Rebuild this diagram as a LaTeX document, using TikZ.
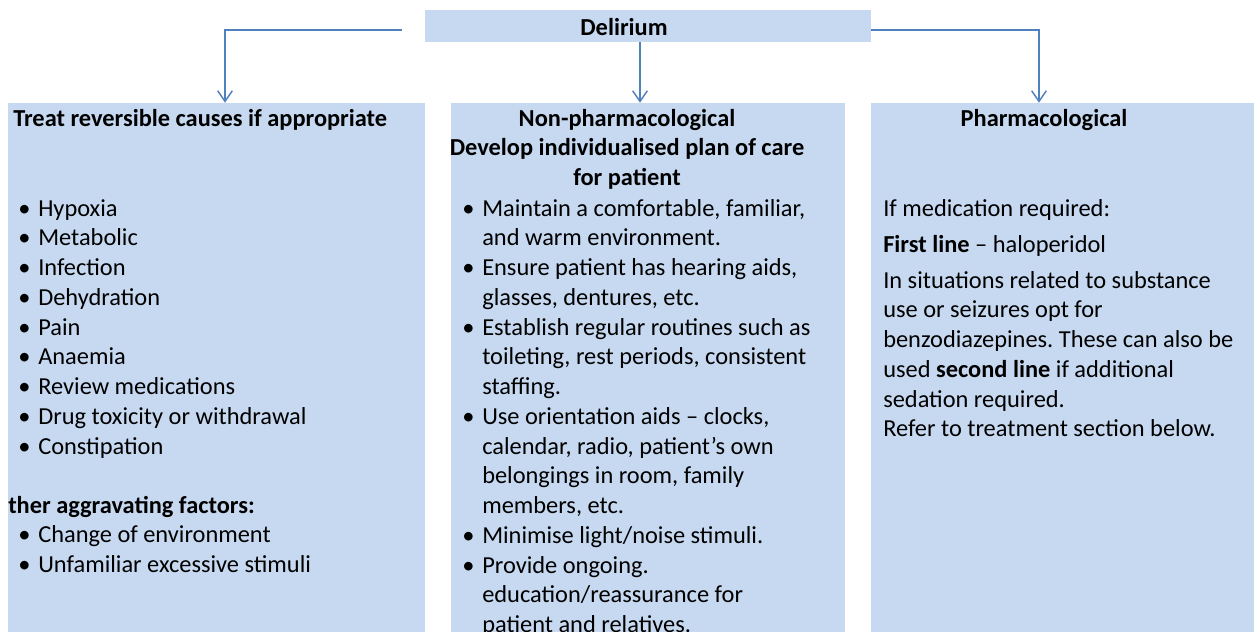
\documentclass[tikz,border=0pt]{standalone}
\usepackage{fontspec}
\setmainfont{Carlito}
\usepackage{xcolor}
\usetikzlibrary{positioning,arrows.meta,calc}
\definecolor{boxblue}{HTML}{C6D9F0}
\definecolor{linkblue}{HTML}{4F81BD}
\newlength{\bulsep}\setlength{\bulsep}{15pt}
\newcommand{\bul}{\makebox[\bulsep][l]{\textbullet}}
\newcommand{\bulind}{\hspace*{\bulsep}}
\frenchspacing

\begin{document}
\begin{tikzpicture}[
  x=0.75pt, y=-0.75pt,
  font=\fontsize{18.3}{22.31}\selectfont,
  col/.style={fill=boxblue, inner sep=0pt, minimum height=396.75pt},
  head/.style={font=\fontsize{18.3}{22.31}\selectfont\bfseries, inner sep=0pt},
  body/.style={align=left, inner sep=0pt, anchor=base west},
  arr/.style={-{Straight Barb[length=8pt,width=11pt]}, linkblue, line width=1.1pt}
]
\useasboundingbox (0,0) rectangle (1254,632);
% top box and the three columns
\node[fill=boxblue, inner sep=0pt, minimum width=334.5pt, minimum height=24pt,
  label={[head, xshift=-18pt, yshift=-1pt]center:Delirium}] (delirium) at (648,26) {};
\node[col, minimum width=312.75pt] (treat) at (216.5,367.5) {};
\node[col, minimum width=295.5pt] (nonph) at (648,367.5) {};
\node[col, minimum width=287.25pt] (pharm) at (1062.5,367.5) {};
% connectors
\draw[arr] ($(delirium.west)+(-23,4)$) -| ($(treat.north)+(8.5,0)$);
\draw[arr] ($(delirium.south)+(-8,0)$) -- ($(nonph.north)+(-8,0)$);
\draw[arr] ($(delirium.east)+(0,4)$) -| ($(pharm.north)+(-23.5,0)$);
% column titles (multi-line nodes sit on the baseline of their last line)
\node[head, anchor=base west] (treathd) at (13,126) {Treat reversible causes if appropriate};
\node[head, anchor=base, align=center] (nonphhd) at (627,185.5)
  {Non-pharmacological\\Develop individualised plan of care\\for patient};
\node[head, anchor=base] (pharmhd) at (1044,126) {Pharmacological};
% left column
\node[body] (causes) at (18,454)
  {\bul Hypoxia\\ \bul Metabolic\\ \bul Infection\\ \bul Dehydration\\ \bul Pain\\
   \bul Anaemia\\ \bul Review medications\\ \bul Drug toxicity or withdrawal\\ \bul Constipation};
\node[body] (aggr) at (8,572.5)
  {\textbf{ther aggravating factors:}\\
   \hspace*{7.5pt}\bul Change of environment\\
   \hspace*{7.5pt}\bul Unfamiliar excessive stimuli};
% middle column
\node[body] (nonphbody) at (462,632.5)
  {\bul Maintain a comfortable, familiar,\\
   \bulind and warm environment.\\
   \bul Ensure patient has hearing aids,\\
   \bulind glasses, dentures, etc.\\
   \bul Establish regular routines such as\\
   \bulind toileting, rest periods, consistent\\
   \bulind staffing.\\
   \bul Use orientation aids – clocks,\\
   \bulind calendar, radio, patient’s own\\
   \bulind belongings in room, family\\
   \bulind members, etc.\\
   \bul Minimise light/noise stimuli.\\
   \bul Provide ongoing.\\
   \bulind education/reassurance for\\
   \bulind patient and relatives.};
% right column
\node[body] (pharmbody) at (883,436.8)
  {If medication required:\\[4.7pt]
   \textbf{First line} – haloperidol\\[4.7pt]
   In situations related to substance\\
   use or seizures opt for\\
   benzodiazepines. These can also be\\
   used \textbf{second line} if additional\\
   sedation required.\\
   Refer to treatment section below.};
\end{tikzpicture}
\end{document}
